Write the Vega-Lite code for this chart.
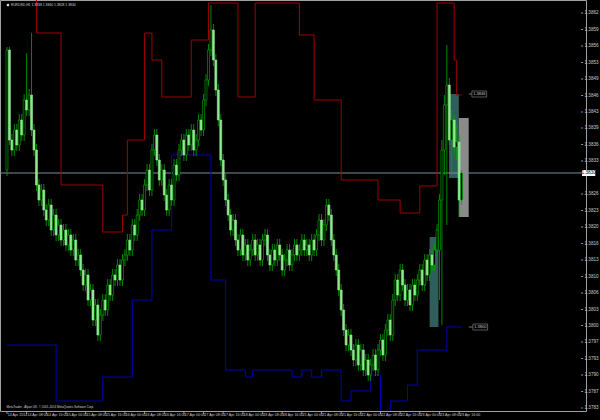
{
"$schema":"https://vega.github.io/schema/vega-lite/v6.json",
"width":586,"height":411,
"autosize":{"type":"none"},
"padding":{"left":0,"top":0,"right":14,"bottom":9},
"background":"#000000",
"config":{"view":{"stroke":"#a0a0a0","strokeWidth":1},"font":"Liberation Sans"},
"datasets":{
"bars":[
{"t":0,"o":1.3831,"h":1.38556,"l":1.38298,"c":1.3855},
{"t":1,"o":1.3855,"h":1.38556,"l":1.3836,"c":1.3837},
{"t":2,"o":1.3837,"h":1.38382,"l":1.38338,"c":1.3835},
{"t":3,"o":1.3835,"h":1.38402,"l":1.38338,"c":1.3839},
{"t":4,"o":1.3839,"h":1.38402,"l":1.38348,"c":1.3836},
{"t":5,"o":1.3836,"h":1.38422,"l":1.38348,"c":1.3841},
{"t":6,"o":1.3841,"h":1.38422,"l":1.38368,"c":1.3838},
{"t":7,"o":1.3838,"h":1.38462,"l":1.38368,"c":1.3845},
{"t":8,"o":1.3845,"h":1.38544,"l":1.38418,"c":1.3843},
{"t":9,"o":1.3843,"h":1.38472,"l":1.38418,"c":1.3846},
{"t":10,"o":1.3846,"h":1.38584,"l":1.38378,"c":1.3839},
{"t":11,"o":1.3839,"h":1.38402,"l":1.38338,"c":1.3835},
{"t":12,"o":1.3835,"h":1.38362,"l":1.38268,"c":1.3828},
{"t":13,"o":1.3828,"h":1.38292,"l":1.38238,"c":1.3825},
{"t":14,"o":1.3825,"h":1.38282,"l":1.38238,"c":1.3827},
{"t":15,"o":1.3827,"h":1.38282,"l":1.38218,"c":1.3823},
{"t":16,"o":1.3823,"h":1.38242,"l":1.38198,"c":1.3821},
{"t":17,"o":1.3821,"h":1.38252,"l":1.38198,"c":1.3824},
{"t":18,"o":1.3824,"h":1.38252,"l":1.38178,"c":1.3819},
{"t":19,"o":1.3819,"h":1.38232,"l":1.38178,"c":1.3822},
{"t":20,"o":1.3822,"h":1.38232,"l":1.38168,"c":1.3818},
{"t":21,"o":1.3818,"h":1.38212,"l":1.38168,"c":1.382},
{"t":22,"o":1.382,"h":1.38212,"l":1.38158,"c":1.3817},
{"t":23,"o":1.3817,"h":1.38202,"l":1.38158,"c":1.3819},
{"t":24,"o":1.3819,"h":1.38202,"l":1.38148,"c":1.3816},
{"t":25,"o":1.3816,"h":1.38192,"l":1.38148,"c":1.3818},
{"t":26,"o":1.3818,"h":1.38192,"l":1.38138,"c":1.3815},
{"t":27,"o":1.3815,"h":1.38182,"l":1.38138,"c":1.3817},
{"t":28,"o":1.3817,"h":1.38182,"l":1.38118,"c":1.3813},
{"t":29,"o":1.3813,"h":1.38152,"l":1.38118,"c":1.3814},
{"t":30,"o":1.3814,"h":1.38152,"l":1.38098,"c":1.3811},
{"t":31,"o":1.3811,"h":1.38122,"l":1.38068,"c":1.3808},
{"t":32,"o":1.3808,"h":1.38112,"l":1.38068,"c":1.381},
{"t":33,"o":1.381,"h":1.38112,"l":1.38038,"c":1.3805},
{"t":34,"o":1.3805,"h":1.38082,"l":1.38038,"c":1.3807},
{"t":35,"o":1.3807,"h":1.38082,"l":1.37998,"c":1.3801},
{"t":36,"o":1.3801,"h":1.38052,"l":1.37998,"c":1.3804},
{"t":37,"o":1.3804,"h":1.38052,"l":1.37968,"c":1.3798},
{"t":38,"o":1.3798,"h":1.38032,"l":1.37968,"c":1.3802},
{"t":39,"o":1.3802,"h":1.38062,"l":1.38008,"c":1.3805},
{"t":40,"o":1.3805,"h":1.38062,"l":1.38018,"c":1.3803},
{"t":41,"o":1.3803,"h":1.38092,"l":1.38018,"c":1.3808},
{"t":42,"o":1.3808,"h":1.38092,"l":1.38048,"c":1.3806},
{"t":43,"o":1.3806,"h":1.38112,"l":1.38048,"c":1.381},
{"t":44,"o":1.381,"h":1.38112,"l":1.38078,"c":1.3809},
{"t":45,"o":1.3809,"h":1.38132,"l":1.38078,"c":1.3812},
{"t":46,"o":1.3812,"h":1.38132,"l":1.38078,"c":1.3809},
{"t":47,"o":1.3809,"h":1.38142,"l":1.38078,"c":1.3813},
{"t":48,"o":1.3813,"h":1.38152,"l":1.38118,"c":1.3814},
{"t":49,"o":1.3814,"h":1.38182,"l":1.38128,"c":1.3817},
{"t":50,"o":1.3817,"h":1.38182,"l":1.38138,"c":1.3815},
{"t":51,"o":1.3815,"h":1.38212,"l":1.38138,"c":1.382},
{"t":52,"o":1.382,"h":1.38212,"l":1.38168,"c":1.3818},
{"t":53,"o":1.3818,"h":1.38232,"l":1.38168,"c":1.3822},
{"t":54,"o":1.3822,"h":1.38262,"l":1.38208,"c":1.3825},
{"t":55,"o":1.3825,"h":1.38262,"l":1.38218,"c":1.3823},
{"t":56,"o":1.3823,"h":1.38292,"l":1.38218,"c":1.3828},
{"t":57,"o":1.3828,"h":1.38322,"l":1.38268,"c":1.3831},
{"t":58,"o":1.3831,"h":1.38322,"l":1.38258,"c":1.3827},
{"t":59,"o":1.3827,"h":1.38362,"l":1.38258,"c":1.3835},
{"t":60,"o":1.3835,"h":1.38392,"l":1.38338,"c":1.3838},
{"t":61,"o":1.3838,"h":1.38392,"l":1.38318,"c":1.3833},
{"t":62,"o":1.3833,"h":1.38342,"l":1.38278,"c":1.3829},
{"t":63,"o":1.3829,"h":1.38322,"l":1.38278,"c":1.3831},
{"t":64,"o":1.3831,"h":1.38322,"l":1.38248,"c":1.3826},
{"t":65,"o":1.3826,"h":1.38272,"l":1.38218,"c":1.3823},
{"t":66,"o":1.3823,"h":1.38292,"l":1.38218,"c":1.3828},
{"t":67,"o":1.3828,"h":1.38292,"l":1.38238,"c":1.3825},
{"t":68,"o":1.3825,"h":1.38332,"l":1.38238,"c":1.3832},
{"t":69,"o":1.3832,"h":1.38332,"l":1.38288,"c":1.383},
{"t":70,"o":1.383,"h":1.38362,"l":1.38288,"c":1.3835},
{"t":71,"o":1.3835,"h":1.38382,"l":1.38338,"c":1.3837},
{"t":72,"o":1.3837,"h":1.38382,"l":1.38328,"c":1.3834},
{"t":73,"o":1.3834,"h":1.38392,"l":1.38328,"c":1.3838},
{"t":74,"o":1.3838,"h":1.38392,"l":1.38348,"c":1.3836},
{"t":75,"o":1.3836,"h":1.38402,"l":1.38348,"c":1.3839},
{"t":76,"o":1.3839,"h":1.38402,"l":1.38338,"c":1.3835},
{"t":77,"o":1.3835,"h":1.38382,"l":1.38338,"c":1.3837},
{"t":78,"o":1.3837,"h":1.38422,"l":1.38358,"c":1.3841},
{"t":79,"o":1.3841,"h":1.38422,"l":1.38378,"c":1.3839},
{"t":80,"o":1.3839,"h":1.38462,"l":1.38378,"c":1.3845},
{"t":81,"o":1.3845,"h":1.38502,"l":1.38438,"c":1.3849},
{"t":82,"o":1.3849,"h":1.38562,"l":1.38478,"c":1.3855},
{"t":83,"o":1.3855,"h":1.3864,"l":1.38538,"c":1.3859},
{"t":84,"o":1.3859,"h":1.38602,"l":1.38518,"c":1.3853},
{"t":85,"o":1.3853,"h":1.38542,"l":1.38458,"c":1.3847},
{"t":86,"o":1.3847,"h":1.38482,"l":1.38398,"c":1.3841},
{"t":87,"o":1.3841,"h":1.38422,"l":1.38318,"c":1.3833},
{"t":88,"o":1.3833,"h":1.38342,"l":1.38278,"c":1.3829},
{"t":89,"o":1.3829,"h":1.38302,"l":1.38238,"c":1.3825},
{"t":90,"o":1.3825,"h":1.38262,"l":1.38208,"c":1.3822},
{"t":91,"o":1.3822,"h":1.38232,"l":1.38178,"c":1.3819},
{"t":92,"o":1.3819,"h":1.38222,"l":1.38178,"c":1.3821},
{"t":93,"o":1.3821,"h":1.38222,"l":1.38158,"c":1.3817},
{"t":94,"o":1.3817,"h":1.38182,"l":1.38138,"c":1.3815},
{"t":95,"o":1.3815,"h":1.38192,"l":1.38138,"c":1.3818},
{"t":96,"o":1.3818,"h":1.38192,"l":1.38128,"c":1.3814},
{"t":97,"o":1.3814,"h":1.38172,"l":1.38128,"c":1.3816},
{"t":98,"o":1.3816,"h":1.38172,"l":1.38118,"c":1.3813},
{"t":99,"o":1.3813,"h":1.38162,"l":1.38118,"c":1.3815},
{"t":100,"o":1.3815,"h":1.38182,"l":1.38138,"c":1.3817},
{"t":101,"o":1.3817,"h":1.38182,"l":1.38128,"c":1.3814},
{"t":102,"o":1.3814,"h":1.38172,"l":1.38128,"c":1.3816},
{"t":103,"o":1.3816,"h":1.38172,"l":1.38118,"c":1.3813},
{"t":104,"o":1.3813,"h":1.38182,"l":1.38118,"c":1.3817},
{"t":105,"o":1.3817,"h":1.38192,"l":1.38158,"c":1.3818},
{"t":106,"o":1.3818,"h":1.38192,"l":1.38128,"c":1.3814},
{"t":107,"o":1.3814,"h":1.38152,"l":1.38108,"c":1.3812},
{"t":108,"o":1.3812,"h":1.38162,"l":1.38108,"c":1.3815},
{"t":109,"o":1.3815,"h":1.38162,"l":1.38118,"c":1.3813},
{"t":110,"o":1.3813,"h":1.38172,"l":1.38118,"c":1.3816},
{"t":111,"o":1.3816,"h":1.38172,"l":1.38128,"c":1.3814},
{"t":112,"o":1.3814,"h":1.38152,"l":1.38098,"c":1.3811},
{"t":113,"o":1.3811,"h":1.38142,"l":1.38098,"c":1.3813},
{"t":114,"o":1.3813,"h":1.38162,"l":1.38118,"c":1.3815},
{"t":115,"o":1.3815,"h":1.38162,"l":1.38108,"c":1.3812},
{"t":116,"o":1.3812,"h":1.38152,"l":1.38108,"c":1.3814},
{"t":117,"o":1.3814,"h":1.38172,"l":1.38128,"c":1.3816},
{"t":118,"o":1.3816,"h":1.38172,"l":1.38128,"c":1.3814},
{"t":119,"o":1.3814,"h":1.38162,"l":1.38128,"c":1.3815},
{"t":120,"o":1.3815,"h":1.38182,"l":1.38138,"c":1.3817},
{"t":121,"o":1.3817,"h":1.38182,"l":1.38138,"c":1.3815},
{"t":122,"o":1.3815,"h":1.38172,"l":1.38138,"c":1.3816},
{"t":123,"o":1.3816,"h":1.38172,"l":1.38128,"c":1.3814},
{"t":124,"o":1.3814,"h":1.38182,"l":1.38128,"c":1.3817},
{"t":125,"o":1.3817,"h":1.38182,"l":1.38138,"c":1.3815},
{"t":126,"o":1.3815,"h":1.38192,"l":1.38138,"c":1.3818},
{"t":127,"o":1.3818,"h":1.38222,"l":1.38168,"c":1.3821},
{"t":128,"o":1.3821,"h":1.38222,"l":1.38158,"c":1.3817},
{"t":129,"o":1.3817,"h":1.38212,"l":1.38158,"c":1.382},
{"t":130,"o":1.382,"h":1.38252,"l":1.38188,"c":1.3824},
{"t":131,"o":1.3824,"h":1.38252,"l":1.38208,"c":1.3822},
{"t":132,"o":1.3822,"h":1.38232,"l":1.38158,"c":1.3817},
{"t":133,"o":1.3817,"h":1.38182,"l":1.38128,"c":1.3814},
{"t":134,"o":1.3814,"h":1.38152,"l":1.38098,"c":1.3811},
{"t":135,"o":1.3811,"h":1.38122,"l":1.38058,"c":1.3807},
{"t":136,"o":1.3807,"h":1.38082,"l":1.38018,"c":1.3803},
{"t":137,"o":1.3803,"h":1.38042,"l":1.37978,"c":1.3799},
{"t":138,"o":1.3799,"h":1.38002,"l":1.37948,"c":1.3796},
{"t":139,"o":1.3796,"h":1.37992,"l":1.37948,"c":1.3798},
{"t":140,"o":1.3798,"h":1.37992,"l":1.37938,"c":1.3795},
{"t":141,"o":1.3795,"h":1.37962,"l":1.37918,"c":1.3793},
{"t":142,"o":1.3793,"h":1.37972,"l":1.37918,"c":1.3796},
{"t":143,"o":1.3796,"h":1.37972,"l":1.37908,"c":1.3792},
{"t":144,"o":1.3792,"h":1.37962,"l":1.37908,"c":1.3795},
{"t":145,"o":1.3795,"h":1.37962,"l":1.37898,"c":1.3791},
{"t":146,"o":1.3791,"h":1.37942,"l":1.37898,"c":1.3793},
{"t":147,"o":1.3793,"h":1.37942,"l":1.37888,"c":1.379},
{"t":148,"o":1.379,"h":1.37932,"l":1.37888,"c":1.3792},
{"t":149,"o":1.3792,"h":1.37952,"l":1.37908,"c":1.3794},
{"t":150,"o":1.3794,"h":1.37952,"l":1.37898,"c":1.3791},
{"t":151,"o":1.3791,"h":1.37962,"l":1.37898,"c":1.3795},
{"t":152,"o":1.3795,"h":1.37982,"l":1.37938,"c":1.3797},
{"t":153,"o":1.3797,"h":1.37982,"l":1.37928,"c":1.3794},
{"t":154,"o":1.3794,"h":1.38002,"l":1.37928,"c":1.3799},
{"t":155,"o":1.3799,"h":1.38022,"l":1.37978,"c":1.3801},
{"t":156,"o":1.3801,"h":1.38022,"l":1.37968,"c":1.3798},
{"t":157,"o":1.3798,"h":1.38062,"l":1.37968,"c":1.3805},
{"t":158,"o":1.3805,"h":1.38102,"l":1.38038,"c":1.3809},
{"t":159,"o":1.3809,"h":1.38102,"l":1.38048,"c":1.3806},
{"t":160,"o":1.3806,"h":1.38122,"l":1.38048,"c":1.3811},
{"t":161,"o":1.3811,"h":1.38122,"l":1.38068,"c":1.3808},
{"t":162,"o":1.3808,"h":1.38092,"l":1.38038,"c":1.3805},
{"t":163,"o":1.3805,"h":1.38082,"l":1.38038,"c":1.3807},
{"t":164,"o":1.3807,"h":1.38082,"l":1.38028,"c":1.3804},
{"t":165,"o":1.3804,"h":1.38092,"l":1.38028,"c":1.3808},
{"t":166,"o":1.3808,"h":1.38092,"l":1.38048,"c":1.3806},
{"t":167,"o":1.3806,"h":1.38102,"l":1.38048,"c":1.3809},
{"t":168,"o":1.3809,"h":1.38122,"l":1.38078,"c":1.3811},
{"t":169,"o":1.3811,"h":1.38122,"l":1.38068,"c":1.3808},
{"t":170,"o":1.3808,"h":1.38142,"l":1.38068,"c":1.3813},
{"t":171,"o":1.3813,"h":1.38142,"l":1.38088,"c":1.381},
{"t":172,"o":1.381,"h":1.38152,"l":1.38088,"c":1.3814},
{"t":173,"o":1.3814,"h":1.38152,"l":1.38108,"c":1.3812},
{"t":174,"o":1.3812,"h":1.38162,"l":1.38108,"c":1.3815},
{"t":175,"o":1.3815,"h":1.38202,"l":1.38138,"c":1.3819},
{"t":176,"o":1.3815,"h":1.38262,"l":1.3805,"c":1.3825},
{"t":177,"o":1.3825,"h":1.3837,"l":1.38,"c":1.3835},
{"t":178,"o":1.3835,"h":1.3846,"l":1.383,"c":1.3844},
{"t":179,"o":1.3844,"h":1.3856,"l":1.382,"c":1.3848},
{"t":180,"o":1.3848,"h":1.38494,"l":1.3836,"c":1.3837},
{"t":181,"o":1.3837,"h":1.3843,"l":1.383,"c":1.3841},
{"t":182,"o":1.3841,"h":1.3842,"l":1.3834,"c":1.38356},
{"t":183,"o":1.38356,"h":1.384,"l":1.3833,"c":1.38366},
{"t":184,"o":1.38366,"h":1.3838,"l":1.38216,"c":1.3825},
{"t":185,"o":1.3825,"h":1.3831,"l":1.3824,"c":1.38304}
],
"red":[
{"t":0,"v":1.3867},{"t":12,"v":1.38584},{"t":22,"v":1.3828},{"t":39,"v":1.38186},{"t":47,"v":1.3822},{"t":49,"v":1.3837},{"t":56,"v":1.38584},{"t":59,"v":1.3853},{"t":63,"v":1.38456},{"t":75,"v":1.3857},{"t":82,"v":1.38644},{"t":94,"v":1.38456},{"t":101,"v":1.38644},{"t":119,"v":1.3858},{"t":125,"v":1.3845},{"t":136,"v":1.3829},{"t":151,"v":1.3825},{"t":160,"v":1.38224},{"t":168,"v":1.38278},{"t":175,"v":1.38644},{"t":182,"v":1.3853},{"t":183,"v":1.3846},{"t":185,"v":1.3846}
],
"blue":[
{"t":0,"v":1.3796},{"t":20,"v":1.37848},{"t":39,"v":1.37896},{"t":51,"v":1.3805},{"t":59,"v":1.3819},{"t":67,"v":1.3834},{"t":83,"v":1.3809},{"t":89,"v":1.3791},{"t":97,"v":1.37896},{"t":100,"v":1.3791},{"t":116,"v":1.37896},{"t":120,"v":1.3791},{"t":124,"v":1.37896},{"t":128,"v":1.3791},{"t":136,"v":1.37848},{"t":140,"v":1.37868},{"t":148,"v":1.379},{"t":152,"v":1.3782},{"t":156,"v":1.37848},{"t":163,"v":1.3788},{"t":167,"v":1.3795},{"t":179,"v":1.37996},{"t":185,"v":1.37996}
],
"boxes":[
{"k":"a","t1":172,"t2":175.6,"p1":1.38176,"p2":1.37996},
{"k":"a","t1":179.9,"t2":183.9,"p1":1.38462,"p2":1.38294},
{"k":"b","t1":183.9,"t2":187.9,"p1":1.38414,"p2":1.38216}
],
"tags":[
{"t1":189.2,"t2":195.2,"p1":1.38468,"p2":1.38456,"tm":192.2,"p":1.38462,"d1":187.9,"s":"1.3846"},
{"t1":189.6,"t2":195.6,"p1":1.38002,"p2":1.3799,"tm":192.6,"p":1.37996,"d1":187.9,"s":"1.3800"}
],
"yticks":[
{"p":1.38624,"s":"1.3862"},{"p":1.38591,"s":"1.3859"},{"p":1.38558,"s":"1.3856"},{"p":1.38525,"s":"1.3853"},{"p":1.38492,"s":"1.3849"},
{"p":1.38459,"s":"1.3846"},{"p":1.38426,"s":"1.3843"},{"p":1.38394,"s":"1.3839"},{"p":1.38361,"s":"1.3836"},{"p":1.38328,"s":"1.3833"},
{"p":1.38262,"s":"1.3826"},{"p":1.38229,"s":"1.3823"},{"p":1.38196,"s":"1.3820"},{"p":1.38163,"s":"1.3816"},{"p":1.3813,"s":"1.3813"},
{"p":1.38097,"s":"1.3810"},{"p":1.38064,"s":"1.3806"},{"p":1.38031,"s":"1.3803"},{"p":1.37999,"s":"1.3800"},{"p":1.37966,"s":"1.3797"},
{"p":1.37933,"s":"1.3793"},{"p":1.379,"s":"1.3790"},{"p":1.37867,"s":"1.3787"},{"p":1.37834,"s":"1.3783"}
],
"xticks":[
{"t":0,"s":"14 Apr 2014"},{"t":8,"s":"14 Apr 08:00"},{"t":16,"s":"14 Apr 16:00"},{"t":24,"s":"15 Apr 00:00"},{"t":32,"s":"15 Apr 08:00"},{"t":40,"s":"15 Apr 16:00"},
{"t":48,"s":"16 Apr 00:00"},{"t":56,"s":"16 Apr 08:00"},{"t":64,"s":"16 Apr 16:00"},{"t":72,"s":"17 Apr 00:00"},{"t":80,"s":"17 Apr 08:00"},{"t":88,"s":"17 Apr 16:00"},
{"t":96,"s":"18 Apr 00:00"},{"t":104,"s":"18 Apr 08:00"},{"t":112,"s":"18 Apr 16:00"},{"t":120,"s":"21 Apr 00:00"},{"t":128,"s":"21 Apr 08:00"},{"t":136,"s":"21 Apr 16:00"},
{"t":144,"s":"22 Apr 00:00"},{"t":152,"s":"22 Apr 08:00"},{"t":160,"s":"22 Apr 16:00"},{"t":168,"s":"23 Apr 00:00"},{"t":176,"s":"23 Apr 08:00"},{"t":184,"s":"23 Apr 16:00"}
]
},
"layer":[
{"data":{"name":"boxes"},"mark":{"type":"rect"},
 "encoding":{
  "x":{"field":"t1","type":"quantitative","scale":{"domain":[-0.8,233.6],"nice":false,"zero":false},"axis":null},
  "x2":{"field":"t2"},
  "y":{"field":"p1","type":"quantitative","scale":{"domain":[1.37828,1.3865],"nice":false,"zero":false},"axis":null},
  "y2":{"field":"p2"},
  "fill":{"condition":{"test":"datum.k == 'a'","value":"#2f5d5b"},"value":"#8a8a8a"}
 }},
{"data":{"values":[{"p":1.38304}]},"mark":{"type":"rule","color":"#7d8c9c","strokeWidth":1},
 "encoding":{"y":{"field":"p","type":"quantitative","axis":null}}},
{"data":{"name":"red"},"mark":{"type":"line","interpolate":"step-after","strokeWidth":1,"clip":true,"color":"#a00000"},
 "encoding":{"x":{"field":"t","type":"quantitative","axis":null},"y":{"field":"v","type":"quantitative","axis":null}}},
{"data":{"name":"blue"},"mark":{"type":"line","interpolate":"step-after","strokeWidth":1,"clip":true,"color":"#0000b4"},
 "encoding":{"x":{"field":"t","type":"quantitative","axis":null},"y":{"field":"v","type":"quantitative","axis":null}}},
{"data":{"name":"bars"},"mark":{"type":"rule","color":"#00a800","strokeWidth":0.8,"clip":true},
 "encoding":{"x":{"field":"t","type":"quantitative","axis":null},"y":{"field":"l","type":"quantitative","axis":null},"y2":{"field":"h"}}},
{"data":{"name":"bars"},"mark":{"type":"bar","size":2,"strokeWidth":0.6,"clip":true},
 "encoding":{
  "x":{"field":"t","type":"quantitative","axis":null},
  "y":{"field":"o","type":"quantitative","axis":null},
  "y2":{"field":"c"},
  "fill":{"condition":{"test":"datum.c > datum.o","value":"#000000"},"value":"#8fe88f"},
  "stroke":{"condition":{"test":"datum.c > datum.o","value":"#00b400"},"value":"#8fe88f"}
 }},
{"data":{"name":"tags"},"mark":{"type":"rule","color":"#909090","strokeWidth":0.8},
 "encoding":{"x":{"field":"d1","type":"quantitative","axis":null},"x2":{"field":"t1"},"y":{"field":"p","type":"quantitative","axis":null}}},
{"data":{"name":"tags"},"mark":{"type":"rect","fill":"#000000","stroke":"#909090","strokeWidth":0.6},
 "encoding":{"x":{"field":"t1","type":"quantitative","axis":null},"x2":{"field":"t2"},"y":{"field":"p1","type":"quantitative","axis":null},"y2":{"field":"p2"}}},
{"data":{"name":"tags"},"mark":{"type":"text","fontSize":4,"color":"#c8c8c8","align":"center","baseline":"middle"},
 "encoding":{"x":{"field":"tm","type":"quantitative","axis":null},"y":{"field":"p","type":"quantitative","axis":null},"text":{"field":"s"}}},
{"data":{"name":"yticks"},"mark":{"type":"rule","color":"#b0b0b0","strokeWidth":0.8},
 "encoding":{"x":{"datum":233.6,"type":"quantitative","axis":null},"x2":{"datum":234.5},"y":{"field":"p","type":"quantitative","axis":null}}},
{"data":{"name":"yticks"},"mark":{"type":"text","fontSize":4.6,"color":"#c8c8c8","align":"left","baseline":"middle","dx":3.5},
 "encoding":{"x":{"datum":233.6,"type":"quantitative","axis":null},"y":{"field":"p","type":"quantitative","axis":null},"text":{"field":"s"}}},
{"data":{"name":"xticks"},"mark":{"type":"rule","color":"#b0b0b0","strokeWidth":0.8},
 "encoding":{"x":{"field":"t","type":"quantitative","axis":null},"y":{"datum":1.37828,"type":"quantitative","axis":null},"y2":{"datum":1.37822}}},
{"data":{"name":"xticks"},"mark":{"type":"text","fontSize":3.6,"color":"#c8c8c8","align":"left","baseline":"top","dx":0.8,"dy":1.5},
 "encoding":{"x":{"field":"t","type":"quantitative","axis":null},"y":{"datum":1.37828,"type":"quantitative","axis":null},"text":{"field":"s"}}},
{"data":{"values":[{"t1":234.0,"t2":239.4,"p1":1.3831,"p2":1.38298,"tm":236.7,"p":1.38304,"s":"1.3830"}]},
 "mark":{"type":"rect","fill":"#ffffff"},
 "encoding":{"x":{"field":"t1","type":"quantitative","axis":null},"x2":{"field":"t2"},"y":{"field":"p1","type":"quantitative","axis":null},"y2":{"field":"p2"}}},
{"data":{"values":[{"t1":234.0,"t2":239.4,"p1":1.3831,"p2":1.38298,"tm":236.7,"p":1.38304,"s":"1.3830"}]},
 "mark":{"type":"text","fontSize":4.6,"color":"#000000","align":"center","baseline":"middle"},
 "encoding":{"x":{"field":"tm","type":"quantitative","axis":null},"y":{"field":"p","type":"quantitative","axis":null},"text":{"field":"s"}}},
{"data":{"values":[{"t":1.6,"p":1.3864,"s":"EURUSD,H1  1.3838 1.3840 1.3828 1.3830"}]},
 "mark":{"type":"text","color":"#d0d0d0","align":"left","baseline":"middle","fontSize":3.4},
 "encoding":{"x":{"field":"t","type":"quantitative","axis":null},"y":{"field":"p","type":"quantitative","axis":null},"text":{"field":"s"}}},
{"data":{"values":[{"t":-0.2,"p":1.37836,"s":"MetaTrader - Alpari UK, © 2001-2014 MetaQuotes Software Corp."}]},
 "mark":{"type":"text","color":"#d0d0d0","align":"left","baseline":"middle","fontSize":3},
 "encoding":{"x":{"field":"t","type":"quantitative","axis":null},"y":{"field":"p","type":"quantitative","axis":null},"text":{"field":"s"}}},
{"data":{"values":[{"t":0.4,"p":1.3864}]},"mark":{"type":"square","size":5,"color":"#e0e0e0","opacity":1,"filled":true},
 "encoding":{"x":{"field":"t","type":"quantitative","axis":null},"y":{"field":"p","type":"quantitative","axis":null}}}
]
}
